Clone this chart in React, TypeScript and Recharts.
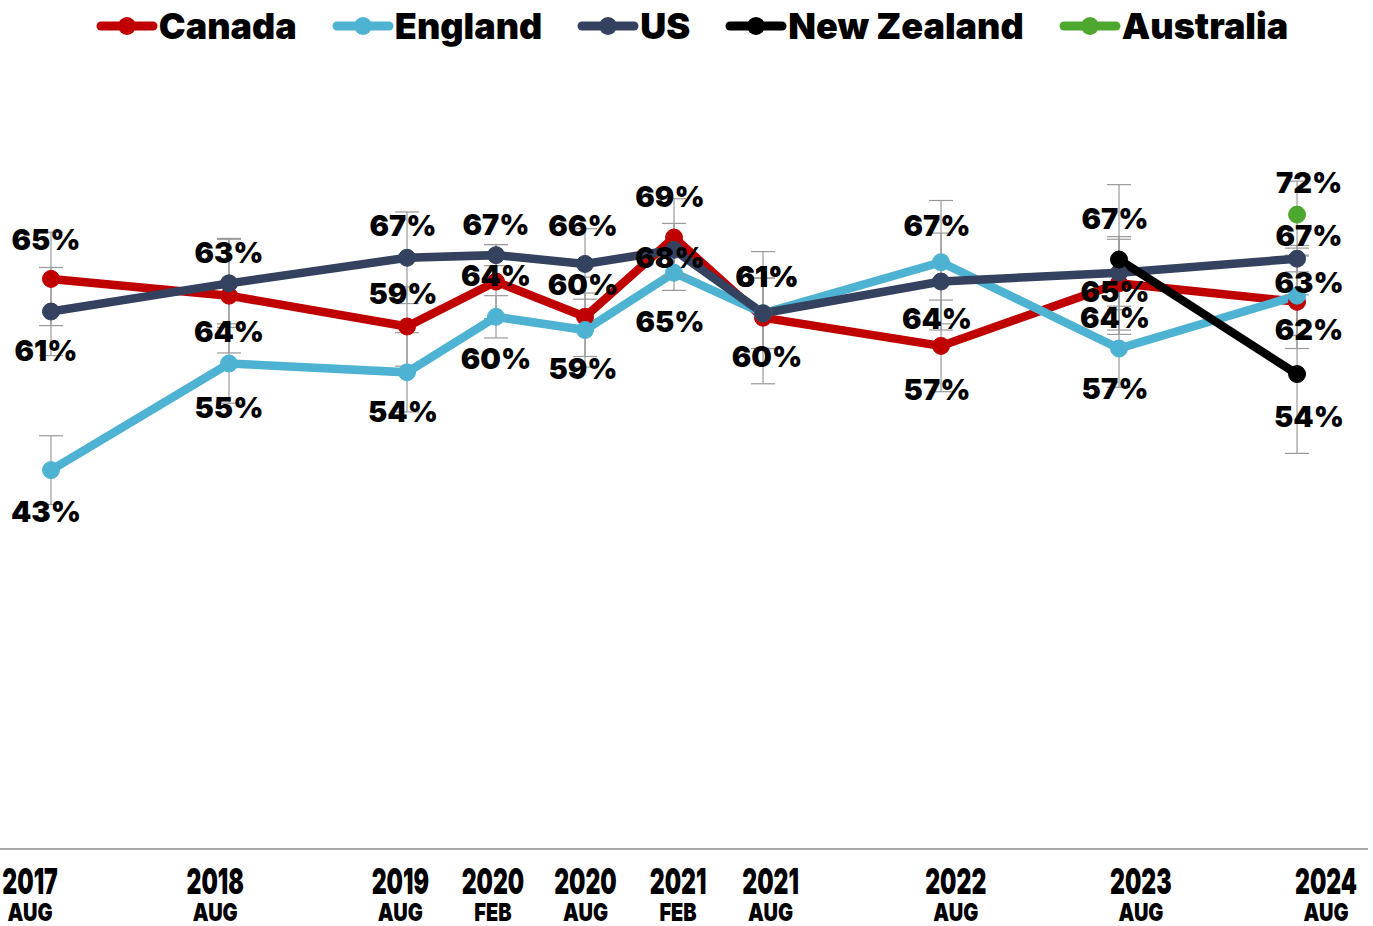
import React from "react";
import { LineChart, Line, XAxis, YAxis, ErrorBar, LabelList, ReferenceLine } from "recharts";

const years = [2017, 2018, 2019, 2020, 2020, 2021, 2021, 2022, 2023, 2024];
const months = ["AUG", "AUG", "AUG", "FEB", "AUG", "FEB", "AUG", "AUG", "AUG", "AUG"];

const canada = [64.7, 62.8, 59.3, 64.4, 60.4, 69.4, 60.3, 57.1, 64.2, 62.1];
const england = [43.0, 55.1, 54.1, 60.4, 58.9, 65.4, 60.8, 66.6, 56.8, 62.8];
const us = [61.0, 64.2, 67.1, 67.4, 66.4, 68.0, 60.8, 64.4, 65.4, 67.0];
const newZealand = [null, null, null, null, null, null, null, null, 66.9, 53.9];
const australia = [null, null, null, null, null, null, null, null, null, 72.0];

// margin of error, +/- points
const canadaErr = [5.3, 6.5, 4.5, 4.2, 4.5, 4.4, 7.5, 5.2, 5.3, 5.3];
const englandErr = [3.9, 4.5, 4.5, 2.4, 4.2, 2.0, 4.0, 7.0, 4.4, 4.5];
const usErr = [5.0, 5.0, 5.2, 1.2, 4.0, 3.0, 4.0, 5.5, 3.8, 1.5];
const newZealandErr = [null, null, null, null, null, null, null, null, 8.5, 9.0];
const australiaErr = [null, null, null, null, null, null, null, null, null, 3.8];

const monthOffset: Record<string, number> = { FEB: 1 / 12, AUG: 7 / 12 };

const series = [
  { key: "canada", name: "Canada", color: "#C00000", values: canada, err: canadaErr },
  { key: "england", name: "England", color: "#4EB3D3", values: england, err: englandErr },
  { key: "us", name: "US", color: "#344260", values: us, err: usErr },
  { key: "nz", name: "New Zealand", color: "#000000", values: newZealand, err: newZealandErr },
  { key: "aus", name: "Australia", color: "#4EA72E", values: australia, err: australiaErr },
];

// label placement (pixels from the point)
const labelDy: Record<string, number[]> = {
  canada: [-39, -43, -33, -6, -32, -41, 39, 44, 34, 28],
  england: [41, 44, 39, 42, 39, 49, -37, -37, 40, -13],
  us: [39, 48, -32, -31, -38, 8, -37, 37, 19, -23],
  nz: [0, 0, 0, 0, 0, 0, 0, 0, -41, 42],
  aus: [0, 0, 0, 0, 0, 0, 0, 0, 0, -32],
};
const columnDx = [-5, 0, -4, 0, -2, -4, 4, -4, -4, 12];

const data = years.map((y, i) => {
  const row: Record<string, number | null> = { t: y + monthOffset[months[i]] };
  series.forEach((s) => {
    row[s.key] = s.values[i];
    row[s.key + "Err"] = s.err[i];
  });
  return row;
});
const tickValues = data.map((d) => d.t as number);

const FONT = "Inter, 'Open Sans', sans-serif";

const TimeTick = (props: any) => {
  const { x, y, payload } = props;
  const i = data.findIndex((d) => Math.abs((d.t as number) - payload.value) < 1e-6);
  if (i < 0) return null;
  return (
    <g transform={`translate(${x},${y})`}>
      <text transform="scale(0.64,1)" textAnchor="middle" y={37} fontSize={36} fontWeight={900} fill="#000" fontFamily={FONT}>
        {years[i]}
      </text>
      <text transform="scale(0.8,1)" textAnchor="middle" y={64} fontSize={25} fontWeight={900} fill="#000" fontFamily={FONT}>
        {months[i]}
      </text>
    </g>
  );
};

const makeLabel = (key: string) => (props: any) => {
  const { x, y, value, index } = props;
  if (value == null || x == null || y == null) return null;
  return (
    <text
      x={x + columnDx[index]}
      y={y + labelDy[key][index]}
      dy="0.36em"
      textAnchor="middle"
      fontSize={29}
      fontWeight={900}
      fontFamily={FONT}
      fill="#000"
    >
      {Math.round(value)}%
    </text>
  );
};

const LegendRow = () => (
  <div
    style={{
      position: "absolute",
      top: 4,
      left: 0,
      width: 1384,
      display: "flex",
      justifyContent: "center",
      gap: 35,
      fontFamily: FONT,
      fontWeight: 900,
      fontSize: 36,
      lineHeight: "44px",
      color: "#000",
    }}
  >
    {series.map((s) => (
      <div key={s.key} style={{ display: "flex", alignItems: "center" }}>
        <svg width={62} height={22} style={{ marginRight: 1 }}>
          <line x1={5} y1={11} x2={57} y2={11} stroke={s.color} strokeWidth={9} strokeLinecap="round" />
          <circle cx={31} cy={11} r={9} fill={s.color} />
        </svg>
        <span>{s.name}</span>
      </div>
    ))}
  </div>
);

export default function App() {
  return (
    <div style={{ position: "absolute", left: 0, top: 0, width: 1373, height: 926, background: "#fff" }}>
      <LineChart width={1373} height={926} data={data} margin={{ top: 56, right: 5, bottom: 0, left: 0 }}>
        <XAxis
          xAxisId="main"
          dataKey="t"
          type="number"
          domain={[2017.2968, 2024.982]}
          allowDataOverflow
          hide
        />
        <XAxis
          xAxisId="labels"
          dataKey="t"
          type="number"
          domain={[2017.421, 2024.81]}
          allowDataOverflow
          ticks={tickValues}
          interval={0}
          tick={<TimeTick />}
          tickLine={false}
          axisLine={false}
          height={77}
        />
        <YAxis domain={[0, 90]} hide />
        <ReferenceLine xAxisId="main" y={0} stroke="#8c8c8c" strokeWidth={1.5} />
        {series.map((s) => (
          <Line
            key={s.key}
            xAxisId="main"
            dataKey={s.key}
            stroke={s.color}
            strokeWidth={8.5}
            dot={{ r: 8.5, fill: s.color, stroke: s.color, strokeWidth: 1 }}
            activeDot={false}
            isAnimationActive={false}
          >
            <ErrorBar dataKey={s.key + "Err"} direction="y" width={12} stroke="#9a9a9a" strokeWidth={1.2} />
          </Line>
        ))}
        {series.map((s) => (
          <Line
            key={s.key + "-labels"}
            xAxisId="main"
            dataKey={s.key}
            stroke="none"
            dot={false}
            activeDot={false}
            legendType="none"
            isAnimationActive={false}
          >
            <LabelList dataKey={s.key} content={makeLabel(s.key)} />
          </Line>
        ))}
      </LineChart>
      <LegendRow />
    </div>
  );
}
